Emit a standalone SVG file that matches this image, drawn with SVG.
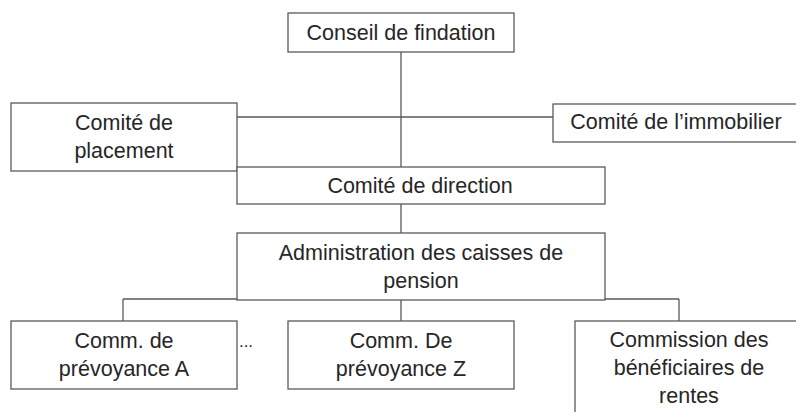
<svg xmlns="http://www.w3.org/2000/svg" width="796" height="412" viewBox="0 0 796 412">
<style>
.box{fill:#ffffff;stroke:#5a5a5a;stroke-width:1.3}
.ln{fill:none;stroke:#5a5a5a;stroke-width:1.3}
text{font-family:"Liberation Sans",Arial,sans-serif;font-size:21.5px;fill:#262626;text-anchor:middle}
</style>
<rect width="796" height="412" fill="#ffffff"/>
<g id="connectors">
<path class="ln" d="M401 52V167M237 117H553M401 204V233M401 300V321M123 299H679M123 299V321M679 299V321"/>
</g>
<g id="conseil">
<rect class="box" x="288" y="13" width="226" height="39"/>
<text x="401" y="40">Conseil de findation</text>
</g>
<g id="placement">
<rect class="box" x="11" y="103" width="226" height="68"/>
<text x="124" y="130">Comité de</text>
<text x="124" y="158">placement</text>
</g>
<g id="immobilier">
<rect class="box" x="553" y="104" width="250" height="38"/>
<text x="676" y="129">Comité de l’immobilier</text>
</g>
<g id="direction">
<rect class="box" x="237" y="167" width="368" height="37"/>
<text x="420" y="193">Comité de direction</text>
</g>
<g id="administration">
<rect class="box" x="237" y="233" width="368" height="67"/>
<text x="421" y="260">Administration des caisses de</text>
<text x="421" y="288">pension</text>
</g>
<g id="commA">
<rect class="box" x="11" y="321" width="226" height="68"/>
<text x="124" y="348">Comm. de</text>
<text x="124" y="376">prévoyance A</text>
</g>
<text x="246" y="347" style="font-size:17px">...</text>
<g id="commZ">
<rect class="box" x="288" y="321" width="226" height="68"/>
<text x="401" y="348">Comm. De</text>
<text x="401" y="376">prévoyance Z</text>
</g>
<g id="beneficiaires">
<rect class="box" x="575" y="321" width="230" height="100"/>
<text x="689" y="347">Commission des</text>
<text x="689" y="375">bénéficiaires de</text>
<text x="689" y="403">rentes</text>
</g>
</svg>
